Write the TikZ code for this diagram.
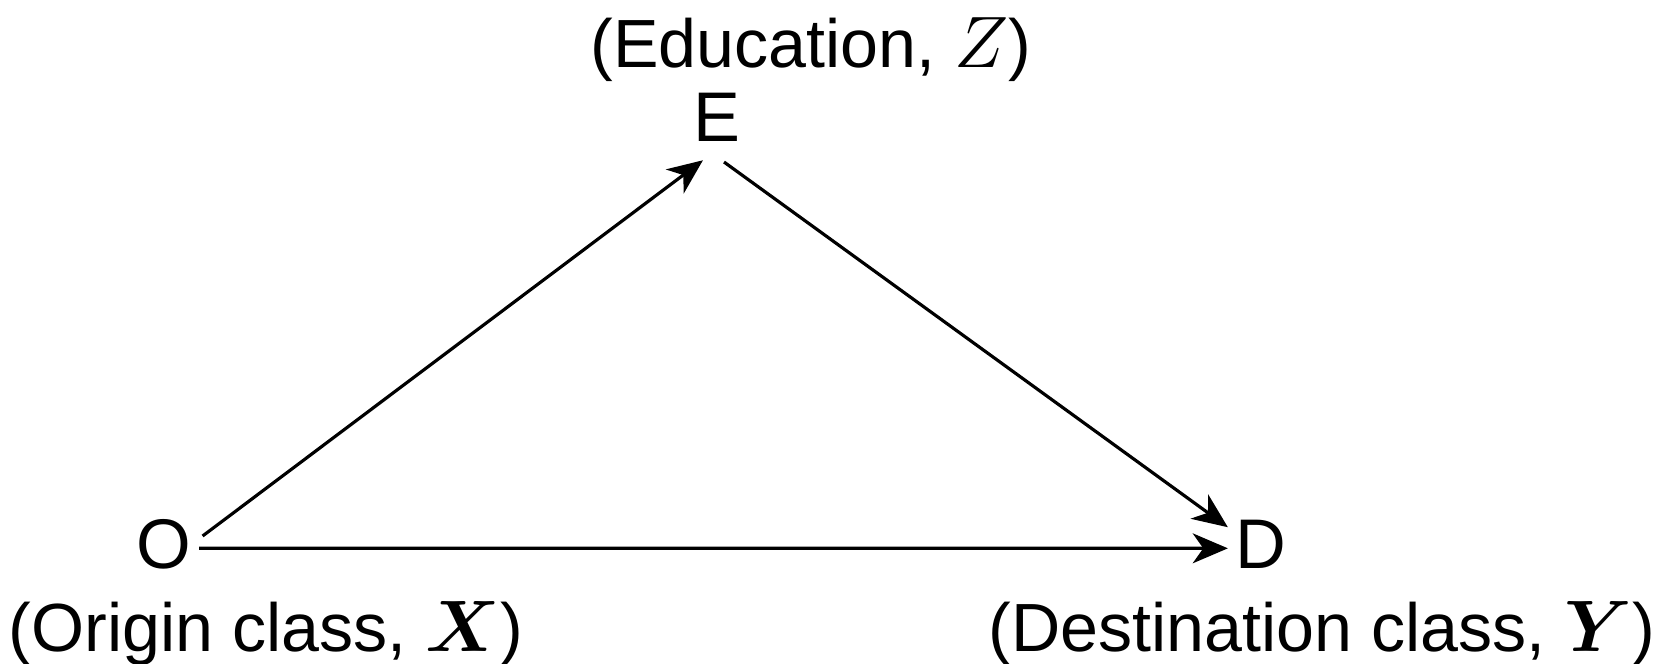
\documentclass[tikz,border=0pt]{standalone}
\usepackage{fontspec}
\usepackage{bm}
\setmainfont{Liberation Sans}
\usetikzlibrary{arrows.meta}

\begin{document}
\begin{tikzpicture}[
    var/.style={inner sep=3pt, font=\fontsize{20}{24}\selectfont},
    desc/.style={anchor=base, inner sep=0pt, font=\fontsize{19.4}{23}\selectfont},
    edge/.style={line width=0.9pt, -{Stealth[length=10pt,width=8.5pt,inset=3pt]}}
]
\useasboundingbox (0,0) rectangle (16.56,6.64);

% Variabili
\node[var, anchor=base] (O) at (1.64,0.95) {O};
\node[var, anchor=base] (E) at (7.17,5.22) {E};
\node[var, anchor=base] (D) at (12.61,0.95) {D};

% Descrizioni
\node[desc] (lblE) at (8.11,5.96) {(Education, $Z$)};
\node[desc] (lblO) at (2.66,0.12) {(Origin class, $\bm{X}$)};
\node[desc] (lblD) at (13.22,0.12) {(Destination class, $\bm{Y}$)};

% Frecce causali
\draw[edge] ([yshift=2.5pt]O.east) -- ([xshift=-4pt,yshift=-2pt]E.south);
\draw[edge] ([xshift=2pt,yshift=-2.5pt]E.south) -- ([xshift=1pt,yshift=5pt]D.west);
\draw[edge] ([xshift=-1pt,yshift=-1pt]O.east) -- ([xshift=1pt,yshift=-1pt]D.west);

\end{tikzpicture}
\end{document}
